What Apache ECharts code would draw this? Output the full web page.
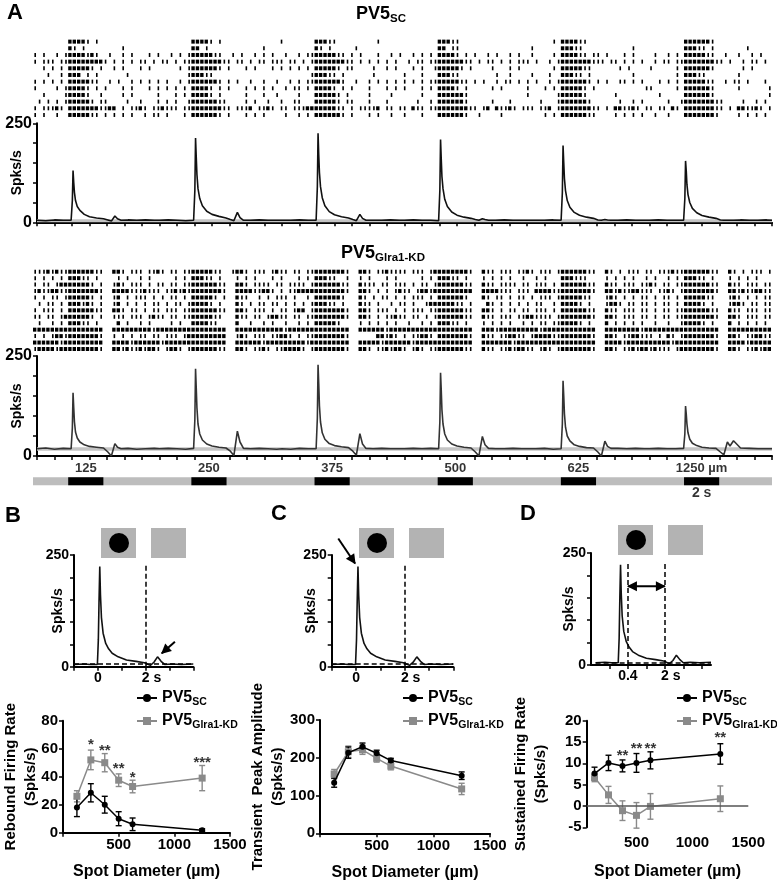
<!DOCTYPE html>
<html>
<head>
<meta charset="utf-8">
<script src="https://cdn.jsdelivr.net/npm/echarts@6.0.0/dist/echarts.min.js"></script>
<style>
  body { margin: 0; background: #fff; }
  #chart { width: 777px; height: 886px; }
</style>
</head>
<body>
<div id="chart"></div>
<script>
// stimulus protocol of panel A (s)
var stimOnsets = [2, 9, 16, 23, 30, 37];
var stimDur = 2;
var traceEnd = 42;
var spotLabels = ['125', '250', '375', '500', '625', '1250 µm'];
var scaleBarLabel = '2 s';

// raster rows, 0.25 s bins: '#' burst, '|' single spike, '.' none (spaces ignored)
var rasterSC = [
  '.... ....  #### |.|. .... .... .... .... ....  #### |.|. .... .... .... |... ....  ###| |... .... ..|. .... .... ....  ###| |... .... .... .... .... ..|.  #### ||.. .... .... .... .... ....  #### ##|. .... .... ....',
  '.... ....  #|.| .... .... |... .... .... ....  ##.| .... .... .... |... .... ....  #|.| .... .|.. .... .... .... ....  ##.| |... .... .... .... .|.. ....  ###| |... .... .... |... .... ....  ###| |.|. .... ..|. ....',
  '|.|. .|.|  #### |#|. .|.. |.|. ..|. |..| .|.|  #### #||. .|.| ..|. |.|. .|.. |.||  #### #||. |.|. ..|. .|.| ..|. |.|.  #### |.|. |..| .|.. |.|. .|.. ..|.  #### ||.| |.|. ..|. |... .|.. |.|.  #### #||. .|.. |..| .|..',
  '|.|| |.||  #### #### |.|. |.|. ||.| .||. |.||  #### ###| |.|| .|.| |.|| |.|| .|.|  #### ###| |.|. |.|. |.|. .|.| |.||  #### ##|| .|.| |.|. |.|| |.|. .|.|  #### ###| ||.| |.|. |.|. .|.| |.||  #### ###| |.|. .|.| |.|.',
  '..|. |.|.  #### #|.| ..|. |... |.|. .... .|.|  #### ##|. |... |.|. ..|. |.|. |.|.  #### #|.| |... .|.. |.|. ..|. |..|  #### #|.| .... |... |.|. .... ..|.  #### #||. .... .|.| .... |... ..|.  #### ##|. .... .|.| ....',
  '...| ..|.  ###. |.|. .... .|.. .... .... ...|  ###| |... .... .... .... .... ...|  ###| |.|. .... .|.. .... |... |...  ###| |... .... .|.. |... .|.. .|..  ###| |.|. .... .... |... .... ..|.  ###| |... .... |... ....',
  '|.|. |.|.  #### #||. .|.| ..|. |.|. |.|. .|.|  #### ##|. |.|. .|.. |..| ..|. |.||  #### ##|. .|.. |.|. |.|. |.|. |.||  #### #||. |.|. .|.| |.|. |.|. .|.|  #### ##|. |.|. .||. |.|. ..|. |.|.  #### #||. .|.| |.|. ..|.',
  '|... .|.|  #### |.|. |... |.|. ..|. |.|. |.|.  #### |.|. |... |.|. |.|. .|.| |.|.  #### |.|. |... |... |.|. |... |.|.  #### |.|. .... |.|. .... |... |.|.  #### #|.| .... .... ...| |... ..|.  #### ##|. .... |... ...|',
  '..|. ...|  #### |..| .... |.|. .... |... |.|.  #### |.|. .... |... |..| .... |...  #### #|.| .... |... .|.. .... |...  #### ##|. .... .... .... |... ...|  #### #|.. .... |... .... ..|. ....  #### ##|. .... .... ...|',
  '.|.| .|.|  #### #|.| |... .|.. |... |.|. |..|  #### ##|| .... |.|. .|.. |..| |...  #### #|.| |... |... |... ...| ..|.  #### ##|. .... |... |... ...| ...|  #### ##|. .... .|.. |.|. .... |..|  #### ###| |... .|.. |.|.',
  '|.|| |#|.  #### ###| |##. |.|| #|.| |#|| |.||  #### ###| |.|| |#.| |#|. ||.| ||##  #### #||. |.|| ||#. ||.| |.#| |.||  #### ###| |.|# .#|| #|.| ||.| |#.|  #### ###| |.|. ##|| #|.| |.|| .#|.  #### ###| |.|. ##|| #|.|',
  '|.|. .|..  #### #||. |.|. |.|. .|.| |.|. ..|.  #### ##|. |... |.|. |... .|.. |.|.  #### ##|. |... |.|. .|.. |... |...  #### ##|. .|.. ..|. .... .... |.|.  #### ##|| .... |.|. |.|. .|.. |...  #### ###| .... |.|. |.|.'
];
var rasterKD = [
  '|||# |#||  #### ##|| ..## |.|| |.|| #|.| |.||  #### #||. .|## |.|| |.|# ||.| |.||  #### ###| ..## |.|| #||| |.|| |.|#  #### ###| ..#| |.|| |.|| #|.| ||.|  #### ##|| ..#| .|.| ||.| |.|| |#||  #### ##|| ..#| .|.| ||.|',
  '|.|. |.|.  ###| |.|. ...| .|.. |.|. .... |.|.  ###| |.|. ..|. |.|. ..|. |... |.|.  ###| |..| ..|. |... |.|. .... |.|.  ###| |.|. ..|. |.|. |..| ..|. |...  ###| ||.. ..|. |.|. |..| .|.. |.|.  ###| |.|. ..|. |.|. |...',
  '|.|| .|##  #### #|.| ..|# |.|| |.|. ||.| |.||  #### ##|| ..## |.|| ||.| |.|| ||.|  #### ##|| ..#| ||.| |.|| |.|. ||.|  #### ##|| ..#| |.|| ||.| |.|| |.|.  #### ##|| ..#| |.|| |.|| #|.| |.||  #### ##|| ..#| |.|| |.||',
  '|#|| ##||  #### ###| ..## ##|| |#|| |.|| #|#|  #### ###| ..## ##|| ##|. |.|| ####  #### ###| ..## |.|. |.|# ||.| ##|#  #### #### ..## ##|| |.|| |.## ##||  #### ###| ..## |#|| ##|| |.|| #|.|  #### ###| ..## |#|| ##||',
  '|.|. ||.|  #### #|.| ..|# .|.| ||.| .|.| |.|.  #### #|.| ..#| |..| .|.| ||.| ..|.  #### ##|. ..#| .|.| |.|. |.|| |.|.  #### ##|. ..#| .||. |.|| .|.| ||.|  #### #||. ..|# |.|. |.|| .|.| |.|.  #### #||. ..|# |.|. |.||',
  '.|.| |.|.  ###| #|.| ..|# .|.| .|.| |.|. ||.|  #### |.|. ..#| .|.| |.|| .|.| .|.|  ###| |.|. ..#| |.|. .|.| |.|. .|##  #### ||.| ...# |.|. |.|. |.|| ..|.  #### |.|. ..|# #|.| |.|| .|.| |.|.  #### |.|. ..|# #|.| |.||',
  '|.|| |.|.  #### ##|| ..## |.|| .|.| |.|| |.||  #### ##|| ..## |.|| |.|. ||.| ##.|  #### ###| ..## |.|| |.|. |.|| |.||  #### ##|| ..## |.|. ||.| |.|| |.|.  #### ##|| ..#| |.|| |.|| .|.| |.||  #### ##|| ..#| |.|| |.||',
  '||.| |.|#  #### #|.| ..|| |.|| |.|# ||.| |.||  #### #||. ..#| |.|| .|## ||.| |.||  #### ###| ..## |.|. ||#| |.|| .|.|  #### ##|| ..#| |.|| |.|| ##|| ||.|  #### ###| ..## |.|| |.|| .|.| |.||  #### ###| ..## |.|| |.||',
  '.|.. |.|.  ###| |.|. ...# .|.. |.|. ...| .|..  #### ||.. ..#. .|.. |.|. .|.. |.|.  #### #|.. ..|. |.|. |.|. .|.. |.|.  ###| |.|. ..|. |.|. |..| .|.| |.||  #### |.|. ..#. |.|. |.|. .|.. |..|  #### |.|. ..#. |.|. |.|.',
  '#### ####  #### #### ..## #### ###| #### ####  #### #### ..## #### #### #|## ####  #### #### ..## #### |### #### ####  #### #### ..## #|## #### ###| ####  #### #### ..## #### ##|# #### ####  #### #### ..## #### ####',
  '|.|. |##|  #### ###| ..|. |.|. ||.| |.|| |.|#  #### #### ..|# |.|| |.|| ##|. |.||  #### ###| .... ..## |#|. |.|| ##|.  #### ###| ..#| |.|| ##|| .|## ##||  #### ###| ..## |.|| ##|| |.|. #|.|  #### ###| ..## |.|| ##||',
  '#### ##|#  #### #### ..## ##|# #### #|## ####  #### #### ..## #### |### #### ##|#  #### #### ..## ###| #### ##|# ####  #### #### ..## #### #|## #### ####  #### #### ..## ##|# #### #### #|##  #### #### ..## ##|# ####',
  '|### #|##  #### ###| ..## |#|| #|## |.|# #|.|  #### ##|| ..## |.|| #|.| |### #|.|  #### ###| ..## |.|| #|## |.|# |.||  #### ##|| ..#| |.|| #|## ||.| #|.|  #### ###| ..## |.|| #|## |#|| |.|#  #### ###| ..## |.|| #|##'
];
var rasterBin = 0.25;

// PSTH samples: time relative to each onset, and the rates read per spot size
var psthOffsets = [-2, -1.5, -1, -0.5, -0.05, 0.02, 0.06, 0.1, 0.14, 0.2, 0.3, 0.45, 0.7, 1.0, 1.4, 1.8, 2.05, 2.25, 2.45, 2.6, 2.8, 3.2, 3.7, 4.2, 4.7];
var psthSC = [
  [5, 4, 6, 5, 5, 55, 131, 100, 75, 55, 40, 30, 20, 14, 11, 9, 6, 3, 16, 9, 5, 6, 5, 6, 5],
  [5, 6, 5, 4, 5, 80, 213, 165, 120, 85, 60, 42, 28, 20, 15, 11, 7, 4, 25, 12, 5, 5, 6, 5, 5],
  [5, 5, 6, 5, 5, 90, 225, 170, 125, 90, 62, 42, 27, 19, 14, 11, 7, 4, 20, 10, 5, 5, 5, 6, 5],
  [5, 6, 5, 5, 4, 80, 209, 160, 115, 85, 58, 40, 26, 18, 13, 10, 7, 5, 9, 7, 5, 5, 6, 5, 5],
  [5, 5, 5, 6, 5, 75, 194, 150, 110, 80, 55, 38, 25, 18, 13, 10, 6, 5, 7, 6, 5, 5, 6, 5, 5],
  [5, 6, 5, 5, 5, 60, 155, 130, 95, 70, 50, 35, 24, 17, 13, 10, 6, 5, 5, 5, 5, 6, 5, 5, 6]
];
var psthKD = [
  [18, 20, 17, 19, 18, 70, 158, 120, 85, 60, 45, 35, 28, 24, 22, 20, 10, 0, 31, 22, 18, 19, 17, 18, 19],
  [18, 19, 18, 17, 19, 90, 218, 170, 120, 80, 55, 40, 30, 25, 22, 20, 12, 1, 62, 35, 19, 18, 19, 18, 17],
  [18, 17, 19, 18, 18, 95, 228, 180, 125, 85, 58, 42, 31, 26, 23, 21, 12, 2, 56, 30, 19, 18, 19, 18, 18],
  [18, 19, 18, 19, 18, 85, 208, 165, 115, 80, 55, 40, 30, 25, 22, 20, 10, 0, 49, 28, 19, 18, 18, 19, 18],
  [18, 18, 19, 17, 18, 80, 188, 150, 105, 72, 50, 38, 28, 24, 21, 20, 10, 0, 37, 24, 19, 19, 18, 19, 18],
  [18, 19, 18, 18, 19, 55, 125, 105, 80, 58, 42, 32, 26, 22, 20, 19, 10, 3, 35, 25, 38, 20, 19, 18, 18]
];
var psthEndSC = 5, psthEndKD = 18;
var bandSC = [0, 8];
var bandKD = [13, 22];

// example trace used in the B-D insets
var insetT = [-1, -0.6, -0.3, -0.02, 0.02, 0.05, 0.08, 0.11, 0.15, 0.22, 0.33, 0.45, 0.6, 0.85, 1.2, 1.6, 1.95, 2.2, 2.35, 2.5, 2.65, 2.8, 3.1, 3.5, 4];
var insetV = [5, 6, 5, 5, 60, 150, 224, 160, 110, 75, 52, 40, 30, 22, 15, 12, 9, 3, 10, 22, 12, 5, 6, 5, 6];
var insetBaseline = 6;
var insetDashTop = 228;
var arrowB = [[3.23, 56], [2.68, 30]];
var arrowC = [[-0.73, 287], [-0.04, 231]];
var arrowD = [[0.4, 176], [2, 176]];

// summary plots
var spotSizes = [125, 250, 375, 500, 625, 1250];
var reboundSC = [18, 28.5, 20, 10, 6, 1.8];
var reboundSCErr = [6.5, 6.5, 6, 5, 4.5, 1];
var reboundKD = [26, 52, 50, 37.5, 33, 39];
var reboundKDErr = [4, 7, 6.5, 4.5, 4.5, 9];
var reboundStars = ['', '*', '**', '**', '*', '***'];
var reboundStarY = [0, 63, 58.5, 45.5, 39.5, 50];

var peakSC = [134, 213.5, 229, 212, 192.5, 152.5];
var peakSCErr = [12, 15, 10, 8, 6, 10];
var peakKD = [157, 216, 221, 198.5, 178, 117.5];
var peakKDErr = [12, 15, 12, 10, 10, 15];

var sustSC = [7.6, 10.1, 9.4, 10.1, 10.7, 12.2];
var sustSCErr = [1.5, 1.8, 1.4, 2.2, 2, 2.4];
var sustKD = [6.7, 2.6, -1.1, -2.2, -0.1, 1.7];
var sustKDErr = [1, 2, 2.3, 3, 3, 3];
var sustStars = ['', '', '**', '**', '**', '**'];
var sustStarY = [0, 0, 11.7, 13.3, 13.5, 16];

var FONT = 'Arial, "Liberation Sans", Helvetica, sans-serif';
var GREY = '#8a8a8a';

function rasterItems(rows) {
  var items = [];
  rows.forEach(function (row, r) {
    var s = row.replace(/\s+/g, '');
    if (s.length !== traceEnd / rasterBin) console.warn('row', r, s.length);
    for (var i = 0; i < s.length; i++) {
      if (s[i] === '#') items.push([i * rasterBin, (i + 1) * rasterBin, r + 1, 1]);
      else if (s[i] === '|') items.push([(i + 0.5) * rasterBin, (i + 0.5) * rasterBin, r + 1, 0]);
    }
  });
  return items;
}

function psthData(cycles, endVal) {
  var pts = [];
  cycles.forEach(function (vals, k) {
    psthOffsets.forEach(function (o, i) { pts.push([stimOnsets[k] + o, vals[i]]); });
  });
  pts.push([traceEnd, endVal]);
  return pts;
}

function renderSpike(params, api) {
  var a = api.coord([api.value(0), api.value(2)]);
  var b = api.coord([api.value(1), api.value(2)]);
  var x, w;
  if (api.value(3)) { x = a[0]; w = b[0] - a[0] - 1; }
  else { x = a[0] - 0.8; w = 1.6; }
  return { type: 'rect', shape: { x: x, y: a[1] - 2, width: w, height: 4 }, style: { fill: '#000' } };
}

function renderStim(params, api) {
  var a = api.coord([api.value(0), 2.6]);
  var b = api.coord([api.value(1), 1.6]);
  return { type: 'rect', shape: { x: a[0], y: a[1], width: b[0] - a[0], height: b[1] - a[1] },
    style: { fill: api.value(2) ? '#000' : '#bdbdbd' } };
}

function renderErr(params, api) {
  var x = api.value(0);
  var p0 = api.coord([x, api.value(1)]);
  var p1 = api.coord([x, api.value(2)]);
  var st = { stroke: api.visual('color'), lineWidth: 1.4 };
  return { type: 'group', children: [
    { type: 'line', shape: { x1: p0[0], y1: p0[1], x2: p1[0], y2: p1[1] }, style: st },
    { type: 'line', shape: { x1: p0[0] - 3, y1: p0[1], x2: p0[0] + 3, y2: p0[1] }, style: st },
    { type: 'line', shape: { x1: p1[0] - 3, y1: p1[1], x2: p1[0] + 3, y2: p1[1] }, style: st }
  ] };
}

function hidden(gi, min, max, inverse) {
  return { type: 'value', gridIndex: gi, min: min, max: max, inverse: !!inverse, show: false };
}

function axis(gi, o) {
  return {
    type: 'value', gridIndex: gi, min: o.min, max: o.max, interval: o.interval,
    name: o.name || '', nameLocation: 'middle', nameGap: o.nameGap || 0, nameRotate: o.nameRotate,
    nameMoveOverlap: false,
    nameTextStyle: { fontFamily: FONT, fontWeight: 'bold', fontSize: o.nameSize || 15, color: '#000', lineHeight: o.nameLH || 18 },
    axisLine: { show: o.line !== false, onZero: false, lineStyle: { color: '#000', width: 2 } },
    axisTick: { show: o.ticks !== false, length: 4, customValues: o.tickValues, lineStyle: { color: '#000', width: 1.5 } },
    axisLabel: { show: o.labels !== false, customValues: o.labelValues, formatter: o.formatter || plain, rich: o.rich,
      fontFamily: FONT, fontWeight: 'bold', fontSize: o.labelSize || 15, color: '#000', margin: o.margin || 5 },
    splitLine: { show: false }
  };
}

var insetRich = { s: { padding: [0, 0, 0, 12], fontFamily: FONT, fontWeight: 'bold', fontSize: 14, color: '#000' } };
function plain(v) { return String(v); }
function insetFmt(v) { return v === 2 ? '{s|2 s}' : String(v); }
function hideZero(v) { return v === 0 ? '' : String(v); }

function insetSeries(gi, extraLines) {
  var lines = [
    [{ coord: [2, 0] }, { coord: [2, insetDashTop] }],
    [{ coord: [-1, insetBaseline] }, { coord: [4, insetBaseline] }]
  ].concat(extraLines || []);
  return {
    type: 'line', name: 'inset' + gi, xAxisIndex: gi, yAxisIndex: gi,
    data: insetT.map(function (t, i) { return [t, insetV[i]]; }),
    symbol: 'none', lineStyle: { color: '#111', width: 1.6 }, itemStyle: { color: '#111' }, z: 3,
    markLine: { silent: true, symbol: 'none', label: { show: false },
      lineStyle: { color: '#000', width: 1.5, type: [5, 3] }, data: lines }
  };
}

function summarySeries(gi, sc, scErr, kd, kdErr, stars, starY, zeroLine) {
  var kdLine = { type: 'line', name: 'kd', xAxisIndex: gi, yAxisIndex: gi, symbol: 'rect', symbolSize: 7,
    data: spotSizes.map(function (s, i) { return [s, kd[i]]; }),
    lineStyle: { color: GREY, width: 1.5 }, itemStyle: { color: GREY }, z: 3 };
  if (zeroLine) {
    kdLine.markLine = { silent: true, symbol: 'none', label: { show: false },
      lineStyle: { color: '#555', width: 1.5, type: 'solid' }, data: [{ yAxis: 0 }] };
  }
  var out = [
    kdLine,
    { type: 'line', name: 'sc', xAxisIndex: gi, yAxisIndex: gi, symbol: 'circle', symbolSize: 6,
      data: spotSizes.map(function (s, i) { return [s, sc[i]]; }),
      lineStyle: { color: '#000', width: 1.5 }, itemStyle: { color: '#000' }, z: 4 },
    { type: 'custom', name: 'errKD' + gi, xAxisIndex: gi, yAxisIndex: gi, renderItem: renderErr,
      itemStyle: { color: GREY }, z: 2,
      data: spotSizes.map(function (s, i) { return [s, kd[i] - kdErr[i], kd[i] + kdErr[i]]; }) },
    { type: 'custom', name: 'errSC' + gi, xAxisIndex: gi, yAxisIndex: gi, renderItem: renderErr,
      itemStyle: { color: '#000' }, z: 2,
      data: spotSizes.map(function (s, i) { return [s, sc[i] - scErr[i], sc[i] + scErr[i]]; }) }
  ];
  if (stars) {
    var pts = [];
    spotSizes.forEach(function (s, i) {
      if (stars[i]) pts.push({ value: [s, starY[i]], label: { formatter: stars[i] } });
    });
    out.push({ type: 'scatter', name: 'stars' + gi, xAxisIndex: gi, yAxisIndex: gi, symbolSize: 1,
      itemStyle: { color: 'rgba(0,0,0,0)' }, silent: true, data: pts,
      label: { show: true, position: 'inside', fontFamily: FONT, fontWeight: 'bold', fontSize: 15, color: '#000' } });
  }
  return out;
}

var stimItems = [[0, traceEnd, 0]].concat(stimOnsets.map(function (t) { return [t, t + stimDur, 1]; }));
var stimText = stimOnsets.map(function (t, i) {
  return { value: [t + stimDur / 2, 3.75], label: { formatter: spotLabels[i] } };
});
stimText.push({ value: [stimOnsets[5] + stimDur / 2, 0.6], label: { formatter: scaleBarLabel, fontSize: 14 } });

var legendRich = {
  a: { fontFamily: FONT, fontWeight: 'bold', fontSize: 16, lineHeight: 20, color: '#000' },
  b: { fontFamily: FONT, fontWeight: 'bold', fontSize: 10.5, lineHeight: 9, verticalAlign: 'bottom', color: '#000' }
};
function legendAt(left) {
  return {
    orient: 'vertical', left: left, top: 685, itemGap: 5, itemWidth: 20, itemHeight: 10,
    selectedMode: false, data: ['sc', 'kd'],
    formatter: function (n) { return n === 'sc' ? '{a|PV5}{b|SC}' : '{a|PV5}{b|Glra1-KD}'; },
    textStyle: { rich: legendRich }
  };
}

var chart = echarts.init(document.getElementById('chart'));
var option = {
  animation: false,
  backgroundColor: '#fff',
  textStyle: { fontFamily: FONT },
  grid: [
    { left: 33, width: 739, top: 38.3, height: 80 },
    { left: 33, width: 739, top: 123.3, height: 99 },
    { left: 33, width: 739, top: 268.5, height: 83.7 },
    { left: 33, width: 739, top: 356, height: 100 },
    { left: 33, width: 739, top: 462, height: 36 },
    { left: 74, width: 119.3, top: 555, height: 111.7 },
    { left: 331.7, width: 121.6, top: 555, height: 111.7 },
    { left: 591, width: 120, top: 553, height: 112 },
    { left: 58.3, width: 171.7, top: 720.7, height: 112 },
    { left: 320, width: 170, top: 720, height: 113.3 },
    { left: 586.7, width: 161.6, top: 720.7, height: 106.6 }
  ],
  legend: [legendAt(131), legendAt(397), legendAt(671)],
  xAxis: [
    hidden(0, 0, traceEnd),
    axis(1, { min: 0, max: traceEnd, interval: 1, labels: false }),
    hidden(2, 0, traceEnd),
    axis(3, { min: 0, max: traceEnd, interval: 1, labels: false }),
    hidden(4, 0, traceEnd),
    axis(5, { min: -1, max: 4, tickValues: [-1, 0, 1, 2, 3, 4], labelValues: [0, 2], formatter: insetFmt, rich: insetRich, labelSize: 14, margin: 4 }),
    axis(6, { min: -1, max: 4, tickValues: [-1, 0, 1, 2, 3, 4], labelValues: [0, 2], formatter: insetFmt, rich: insetRich, labelSize: 14, margin: 4 }),
    axis(7, { min: -1.2, max: 4, tickValues: [-0.4, 0.4, 1.2, 2, 2.8, 3.6], labelValues: [0.4, 2], formatter: insetFmt, rich: insetRich, labelSize: 14, margin: 4 }),
    axis(8, { min: 0, max: 1500, interval: 500, formatter: hideZero, name: 'Spot Diameter (µm)', nameGap: 30, nameSize: 16 }),
    axis(9, { min: 0, max: 1500, interval: 500, formatter: hideZero, name: 'Spot Diameter (µm)', nameGap: 30, nameSize: 16 }),
    axis(10, { min: 55, max: 1500, line: false, ticks: false, labelValues: [500, 1000, 1500], name: 'Spot Diameter (µm)', nameGap: 35, nameSize: 16, margin: 8 })
  ],
  yAxis: [
    hidden(0, 0.5, rasterSC.length + 0.5, true),
    axis(1, { min: 0, max: 250, interval: 50, labelValues: [0, 250], name: 'Spks/s', nameRotate: 90, nameGap: 11, nameSize: 14, labelSize: 16 }),
    hidden(2, 0.5, rasterKD.length + 0.5, true),
    axis(3, { min: 0, max: 250, interval: 50, labelValues: [0, 250], name: 'Spks/s', nameRotate: 90, nameGap: 11, nameSize: 14, labelSize: 16 }),
    hidden(4, 0, 4.5),
    axis(5, { min: 0, max: 250, interval: 50, labelValues: [0, 250], name: 'Spks/s', nameRotate: 90, nameGap: 7, nameSize: 14, labelSize: 14 }),
    axis(6, { min: 0, max: 250, interval: 50, labelValues: [0, 250], name: 'Spks/s', nameRotate: 90, nameGap: 12, nameSize: 14, labelSize: 14 }),
    axis(7, { min: 0, max: 250, interval: 50, labelValues: [0, 250], name: 'Spks/s', nameRotate: 90, nameGap: 13, nameSize: 14, labelSize: 14 }),
    axis(8, { min: 0, max: 80, interval: 20, name: 'Rebound Firing Rate\n(Spks/s)', nameRotate: 90, nameGap: 22, nameLH: 20 }),
    axis(9, { min: 0, max: 300, interval: 100, name: 'Transient  Peak Amplitude\n(Spks/s)', nameRotate: 90, nameGap: 32, nameLH: 20 }),
    axis(10, { min: -5, max: 20, interval: 5, name: 'Sustained Firing Rate\n(Spks/s)', nameRotate: 90, nameGap: 36, nameLH: 20 })
  ],
  series: [
    { type: 'custom', name: 'rasterSC', xAxisIndex: 0, yAxisIndex: 0, renderItem: renderSpike,
      encode: { x: [0, 1], y: 2 }, data: rasterItems(rasterSC), silent: true },
    { type: 'line', name: 'psthSC', xAxisIndex: 1, yAxisIndex: 1, data: psthData(psthSC, psthEndSC),
      symbol: 'none', lineStyle: { color: '#111', width: 1.6 }, itemStyle: { color: '#111' },
      markArea: { silent: true, itemStyle: { color: '#c4c4c4' }, data: [[{ yAxis: bandSC[0] }, { yAxis: bandSC[1] }]] } },
    { type: 'custom', name: 'rasterKD', xAxisIndex: 2, yAxisIndex: 2, renderItem: renderSpike,
      encode: { x: [0, 1], y: 2 }, data: rasterItems(rasterKD), silent: true },
    { type: 'line', name: 'psthKD', xAxisIndex: 3, yAxisIndex: 3, data: psthData(psthKD, psthEndKD),
      symbol: 'none', lineStyle: { color: '#333', width: 1.6 }, itemStyle: { color: '#333' },
      markArea: { silent: true, itemStyle: { color: '#c4c4c4' }, data: [[{ yAxis: bandKD[0] }, { yAxis: bandKD[1] }]] } },
    { type: 'custom', name: 'stim', xAxisIndex: 4, yAxisIndex: 4, renderItem: renderStim,
      encode: { x: [0, 1] }, data: stimItems, silent: true },
    { type: 'scatter', name: 'stimText', xAxisIndex: 4, yAxisIndex: 4, symbolSize: 1, silent: true,
      itemStyle: { color: 'rgba(0,0,0,0)' }, data: stimText,
      label: { show: true, position: 'inside', fontFamily: FONT, fontWeight: 'bold', fontSize: 13, color: '#000' } },
    insetSeries(5),
    insetSeries(6),
    insetSeries(7, [[{ coord: [0.4, 0] }, { coord: [0.4, insetDashTop] }]])
  ]
    .concat(summarySeries(8, reboundSC, reboundSCErr, reboundKD, reboundKDErr, reboundStars, reboundStarY))
    .concat(summarySeries(9, peakSC, peakSCErr, peakKD, peakKDErr))
    .concat(summarySeries(10, sustSC, sustSCErr, sustKD, sustKDErr, sustStars, sustStarY, true))
};
chart.setOption(option);

// annotations: panel letters, titles, stimulus icons, arrows
function arrowEls(gi, pts, both) {
  var p0 = chart.convertToPixel({ gridIndex: gi }, pts[0]);
  var p1 = chart.convertToPixel({ gridIndex: gi }, pts[1]);
  var els = [{ type: 'line', shape: { x1: p0[0], y1: p0[1], x2: p1[0], y2: p1[1] }, style: { stroke: '#000', lineWidth: 2 }, z: 50 }];
  var heads = both ? [[p1, p0], [p0, p1]] : [[p1, p0]];
  heads.forEach(function (h) {
    var tip = h[0], tail = h[1];
    var dx = tip[0] - tail[0], dy = tip[1] - tail[1];
    var L = Math.sqrt(dx * dx + dy * dy), ux = dx / L, uy = dy / L;
    var bx = tip[0] - ux * 9, by = tip[1] - uy * 9;
    els.push({ type: 'polygon', z: 51, style: { fill: '#000' },
      shape: { points: [[tip[0] + ux, tip[1] + uy], [bx - uy * 5, by + ux * 5], [bx + uy * 5, by - ux * 5]] } });
  });
  return els;
}
function letter(t, x, y) {
  return { type: 'text', z: 60, style: { text: t, x: x, y: y, fontFamily: FONT, fontWeight: 'bold', fontSize: 22, fill: '#000' } };
}
var titleRich = {
  a: { fontFamily: FONT, fontWeight: 'bold', fontSize: 18, lineHeight: 22, fill: '#000' },
  b: { fontFamily: FONT, fontWeight: 'bold', fontSize: 11.5, lineHeight: 9, verticalAlign: 'bottom', fill: '#000' }
};
function title(main, sub, x, y) {
  return { type: 'text', z: 60, style: { text: '{a|' + main + '}{b|' + sub + '}', rich: titleRich, x: x, y: y, align: 'center', verticalAlign: 'middle' } };
}
function icons(x, y) {
  return [
    { type: 'rect', shape: { x: x, y: y, width: 35, height: 30 }, style: { fill: '#b3b3b3' } },
    { type: 'circle', shape: { cx: x + 18, cy: y + 15, r: 10 }, style: { fill: '#000' } },
    { type: 'rect', shape: { x: x + 50, y: y, width: 35, height: 30 }, style: { fill: '#b3b3b3' } }
  ];
}
var graphics = [
  letter('A', 7, 2), letter('B', 5, 505), letter('C', 271, 503), letter('D', 520, 503),
  title('PV5', 'SC', 381, 14), title('PV5', 'Glra1-KD', 383, 253)
]
  .concat(icons(101, 528)).concat(icons(359, 528)).concat(icons(618, 525))
  .concat(arrowEls(5, arrowB)).concat(arrowEls(6, arrowC)).concat(arrowEls(7, arrowD, true));
chart.setOption({ graphic: graphics });
</script>
</body>
</html>
